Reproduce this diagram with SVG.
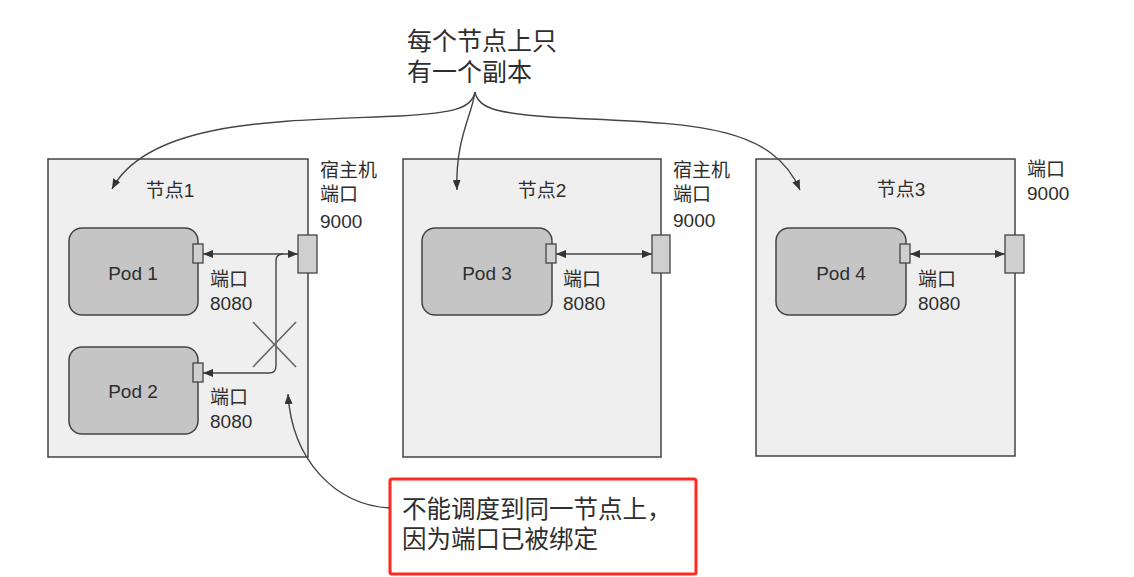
<svg xmlns="http://www.w3.org/2000/svg" width="1134" height="577" viewBox="0 0 1134 577">
  <defs>
    <style>
      .node { fill: #efefef; stroke: #444; stroke-width: 1.5; }
      .pod { fill: #c5c5c5; stroke: #444; stroke-width: 1.5; }
      .port { fill: #cfcfcf; stroke: #444; stroke-width: 1.3; }
      .t { font-family: "Liberation Sans", "Noto Sans CJK SC", sans-serif; fill: #2e2e2e; }
      .s19 { font-size: 19px; }
      .s24 { font-size: 24.5px; }
      .s25 { font-size: 25px; }
      .conn { fill: none; stroke: #444; stroke-width: 1.4; }
      .cross { stroke: #666; stroke-width: 1.6; }
    </style>
    <marker id="arr" viewBox="0 0 10 8" refX="10" refY="4" markerWidth="10" markerHeight="8" markerUnits="userSpaceOnUse" orient="auto-start-reverse">
      <path d="M0,0 L10,4 L0,8 z" fill="#333"/>
    </marker>
  </defs>
  <rect width="1134" height="577" fill="#ffffff"/>

  <g id="node1">
    <rect class="node" x="48" y="159" width="260" height="298"/>
    <text class="t s19" x="170" y="197" text-anchor="middle">节点1</text>
    <g id="pod1">
      <rect class="pod" x="69" y="228" width="129" height="87" rx="13"/>
      <text class="t s19" x="133" y="280" text-anchor="middle">Pod 1</text>
      <rect class="port" x="193" y="244" width="10" height="19"/>
      <text class="t s19" x="210" y="286">端口</text>
      <text class="t s19" x="210" y="310">8080</text>
    </g>
    <g id="pod2">
      <rect class="pod" x="69" y="347" width="129" height="87" rx="13"/>
      <text class="t s19" x="133" y="398" text-anchor="middle">Pod 2</text>
      <rect class="port" x="193" y="363" width="10" height="19"/>
      <text class="t s19" x="210" y="404">端口</text>
      <text class="t s19" x="210" y="428">8080</text>
    </g>
    <rect class="port" x="298" y="235" width="19" height="38"/>
    <text class="t s19" x="320" y="177">宿主机</text>
    <text class="t s19" x="320" y="201">端口</text>
    <text class="t s19" x="320" y="228">9000</text>
  </g>

  <g id="node2">
    <rect class="node" x="403" y="159" width="258" height="298"/>
    <text class="t s19" x="542" y="197" text-anchor="middle">节点2</text>
    <g id="pod3">
      <rect class="pod" x="422" y="228" width="130" height="87" rx="13"/>
      <text class="t s19" x="487" y="280" text-anchor="middle">Pod 3</text>
      <rect class="port" x="546" y="244" width="10" height="19"/>
      <text class="t s19" x="563" y="286">端口</text>
      <text class="t s19" x="563" y="310">8080</text>
    </g>
    <rect class="port" x="652" y="235" width="18" height="38"/>
    <text class="t s19" x="673" y="177">宿主机</text>
    <text class="t s19" x="673" y="201">端口</text>
    <text class="t s19" x="673" y="227">9000</text>
  </g>

  <g id="node3">
    <rect class="node" x="756" y="159" width="259" height="297"/>
    <text class="t s19" x="901" y="196" text-anchor="middle">节点3</text>
    <g id="pod4">
      <rect class="pod" x="776" y="228" width="130" height="87" rx="13"/>
      <text class="t s19" x="841" y="280" text-anchor="middle">Pod 4</text>
      <rect class="port" x="900" y="244" width="10" height="19"/>
      <text class="t s19" x="918" y="286">端口</text>
      <text class="t s19" x="918" y="310">8080</text>
    </g>
    <rect class="port" x="1005" y="235" width="19" height="38"/>
    <text class="t s19" x="1027" y="176">端口</text>
    <text class="t s19" x="1027" y="200">9000</text>
  </g>

  <g id="note-top">
    <text class="t s25" x="407" y="50">每个节点上只</text>
    <text class="t s25" x="407" y="81">有一个副本</text>
  </g>

  <g id="note-bottom">
    <rect x="390" y="479" width="306" height="95" rx="2" fill="#ffffff" stroke="#ff2a1f" stroke-width="3"/>
    <text class="t s24" x="402" y="518">不能调度到同一节点上，</text>
    <text class="t s24" x="402" y="548">因为端口已被绑定</text>
  </g>

  <g id="connectors">
    <path class="conn" d="M475,92 C472,108 455,113 400,116 C290,121 150,118 112,189" marker-end="url(#arr)"/>
    <path class="conn" d="M475,92 C472,115 455,140 457,190" marker-end="url(#arr)"/>
    <path class="conn" d="M475,92 C478,108 495,113 550,117 C680,124 770,120 800,190" marker-end="url(#arr)"/>
    <path class="conn" d="M390,508 C335,505 292,460 288,394" marker-end="url(#arr)"/>

    <path class="conn" d="M203,254 H298" marker-start="url(#arr)" marker-end="url(#arr)"/>
    <path class="conn" d="M283,254 Q276,254 276,261 V366 Q276,373 269,373 H203" marker-end="url(#arr)"/>
    <line class="cross" x1="253" y1="322" x2="296" y2="367"/>
    <line class="cross" x1="296" y1="322" x2="253" y2="367"/>

    <path class="conn" d="M556,254 H652" marker-start="url(#arr)" marker-end="url(#arr)"/>
    <path class="conn" d="M910,254 H1005" marker-start="url(#arr)" marker-end="url(#arr)"/>
  </g>
</svg>
